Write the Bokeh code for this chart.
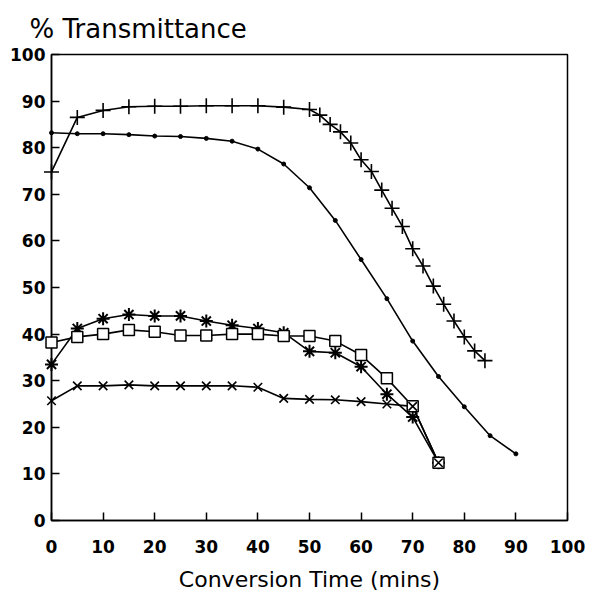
from bokeh.plotting import figure
from bokeh.models import Range1d, FixedTicker
from bokeh.embed import file_html
from bokeh.resources import INLINE

# data
dot_x = [0, 5, 10, 15, 20, 25, 30, 35, 40, 45, 50, 55, 60, 65, 70, 75, 80, 85, 90]
dot_y = [83.2, 83.0, 83.0, 82.8, 82.5, 82.4, 82.0, 81.4, 79.7, 76.5, 71.4, 64.4,
         56.0, 47.6, 38.5, 30.9, 24.4, 18.2, 14.3]

plus_x = [0, 5, 10, 15, 20, 25, 30, 35, 40, 45, 50, 52, 54, 56, 58, 60, 62, 64,
          66, 68, 70, 72, 74, 76, 78, 80, 82, 84]
plus_y = [74.8, 86.5, 88.0, 88.8, 88.9, 88.9, 89.0, 89.0, 89.0, 88.7, 88.2, 87.0,
          85.0, 83.4, 81.0, 77.4, 74.9, 70.9, 67.0, 63.1, 58.3, 54.6, 50.3, 46.4,
          42.8, 39.4, 36.4, 34.3]

low_x = [0, 5, 10, 15, 20, 25, 30, 35, 40, 45, 50, 55, 60, 65, 70, 75]
star_y = [33.5, 41.2, 43.3, 44.2, 43.9, 43.9, 42.8, 41.9, 41.2, 40.3, 36.3, 36.0,
          33.0, 27.1, 22.2, 12.4]
square_y = [38.2, 39.4, 40.0, 40.9, 40.5, 39.7, 39.7, 40.0, 40.0, 39.6, 39.6, 38.5,
            35.5, 30.5, 24.5, 12.4]
cross_y = [25.7, 28.9, 28.9, 29.1, 28.9, 28.9, 28.9, 28.9, 28.6, 26.2, 26.0, 25.9,
           25.5, 25.0, 24.5, 12.4]

x_ticks = list(range(0, 101, 10))
y_ticks = list(range(0, 101, 10))
title_text = "% Transmittance"

FONT = "DejaVu Sans"

p = figure(width=585, height=594, output_backend="svg", toolbar_location=None,
           x_range=Range1d(0, 100), y_range=Range1d(0, 100),
           min_border_left=51, min_border_right=18, min_border_top=54,
           min_border_bottom=72, title=title_text)
p.grid.visible = False
p.outline_line_color = "black"
p.outline_line_width = 1.5
p.background_fill_color = "white"
p.border_fill_color = "white"

p.title.text_font = FONT
p.title.text_font_size = "26px"
p.title.text_font_style = "normal"
p.title.align = "left"
p.title.offset = -22
p.title.standoff = 21
p.title.text_color = "black"

for ax in (p.xaxis[0], p.yaxis[0]):
    ax.axis_line_color = "black"
    ax.axis_line_width = 1.5
    ax.major_tick_in = 8
    ax.major_tick_out = 0
    ax.major_tick_line_color = "black"
    ax.major_tick_line_width = 1.5
    ax.minor_tick_line_color = None
    ax.major_label_text_font = FONT
    ax.major_label_text_font_size = "17px"
    ax.major_label_text_font_style = "bold"
    ax.major_label_text_color = "black"

p.xaxis.ticker = FixedTicker(ticks=x_ticks)
p.yaxis.ticker = FixedTicker(ticks=y_ticks)
p.xaxis.major_label_standoff = 19
p.yaxis.major_label_standoff = 6
p.xaxis.axis_label = "Conversion Time (mins)"
p.xaxis.axis_label_text_font = FONT
p.xaxis.axis_label_text_font_size = "22px"
p.xaxis.axis_label_text_font_style = "normal"
p.xaxis.axis_label_text_color = "black"
p.xaxis.axis_label_standoff = 11

LW = 1.6
p.line(dot_x, dot_y, line_color="black", line_width=LW)
p.scatter(dot_x, dot_y, marker="circle", size=4, color="black", level="overlay")

p.line(plus_x, plus_y, line_color="black", line_width=LW)
p.scatter(plus_x, plus_y, marker="cross", size=15, line_color="black",
          line_width=1.6, level="overlay")

p.line(low_x, star_y, line_color="black", line_width=LW)
p.scatter(low_x, star_y, marker="asterisk", size=13, line_color="black",
          line_width=2.0, level="overlay")

p.line(low_x, square_y, line_color="black", line_width=LW)
p.scatter(low_x, square_y, marker="square", size=11, line_color="black",
          fill_color="white", line_width=1.5, level="overlay")

p.line(low_x, cross_y, line_color="black", line_width=LW)
p.scatter(low_x, cross_y, marker="x", size=12, line_color="black",
          line_width=1.6, level="overlay")

open("out.html", "w").write(file_html(p, INLINE))
